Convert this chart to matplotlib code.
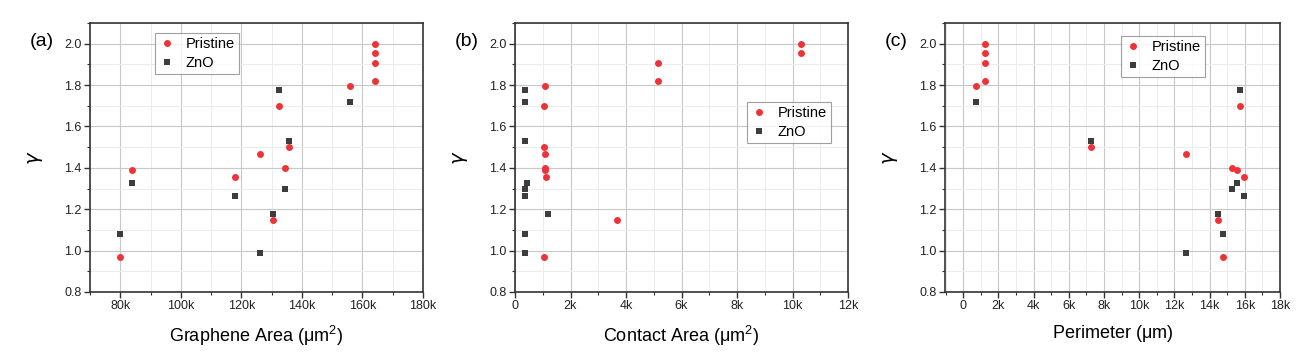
import numpy as np
import matplotlib
matplotlib.use("Agg")
import matplotlib.pyplot as plt
from matplotlib.ticker import MultipleLocator, FuncFormatter

plt.rcParams['font.family'] = ['Liberation Sans', 'DejaVu Sans']
plt.rcParams['mathtext.fontset'] = 'custom'
plt.rcParams['mathtext.rm'] = 'Liberation Sans'

# (a) graphene area
area_p_x = [80, 84, 117.9, 126, 130.5, 132.3, 134.3, 135.9, 155.8, 164, 164, 164, 164]
area_p_y = [0.97, 1.389, 1.355, 1.465, 1.147, 1.698, 1.40, 1.50, 1.797, 2.0, 1.955, 1.905, 1.818]
area_z_x = [80, 84, 117.9, 126, 130.5, 132.3, 134.3, 135.9, 155.8]
area_z_y = [1.079, 1.327, 1.266, 0.989, 1.179, 1.774, 1.297, 1.529, 1.719]

# (b) contact area
cont_p_x = [1.08, 1.04, 1.04, 1.08, 1.08, 1.08, 1.10, 1.04, 3.68, 5.15, 5.15, 10.29, 10.29]
cont_p_y = [1.797, 1.698, 1.50, 1.465, 1.40, 1.389, 1.355, 0.97, 1.147, 1.905, 1.818, 2.0, 1.955]
cont_z_x = [0.36, 0.36, 0.36, 0.42, 0.36, 0.36, 1.19, 0.36, 0.36]
cont_z_y = [1.774, 1.719, 1.529, 1.327, 1.297, 1.266, 1.179, 1.079, 0.989]

# (c) perimeter
per_p_x = [0.74, 1.21, 1.21, 1.21, 1.21, 7.25, 12.65, 14.5, 14.77, 15.25, 15.53, 15.7, 15.93]
per_p_y = [1.797, 1.818, 1.905, 1.955, 2.0, 1.50, 1.465, 1.147, 0.97, 1.40, 1.389, 1.698, 1.355]
per_z_x = [0.74, 7.25, 12.65, 14.5, 14.77, 15.25, 15.53, 15.7, 15.93]
per_z_y = [1.719, 1.529, 0.989, 1.179, 1.079, 1.297, 1.327, 1.774, 1.266]

red = '#ee3338'
gray = '#3d3d3d'

W, H = 1304, 364
fig = plt.figure(figsize=(W / 100, H / 100), dpi=100)

panels = [
    ('(a)', 90, 423, area_p_x, area_p_y, area_z_x, area_z_y, (70, 180), 20, 10,
     r'Graphene Area ($\mathrm{\mu}$m$^2$)', (155, 33)),
    ('(b)', 515, 848, cont_p_x, cont_p_y, cont_z_x, cont_z_y, (0, 12), 2, 1,
     r'Contact Area ($\mathrm{\mu}$m$^2$)', (747, 102)),
    ('(c)', 945, 1280, per_p_x, per_p_y, per_z_x, per_z_y, (-1.04, 18), 2, 1,
     r'Perimeter ($\mathrm{\mu}$m)', (1121, 36)),
]

top, bottom = 23, 292
kfmt = FuncFormatter(lambda v, p: '0' if abs(v) < 1e-9 else '%gk' % v)

for lab, x0, x1, px, py, zx, zy, xlim, maj, mnr, xlabel, legpos in panels:
    ax = fig.add_axes([x0 / W, (H - bottom) / H, (x1 - x0) / W, (bottom - top) / H])
    ax.plot(px, py, 'o', color=red, ms=5, mew=0, label='Pristine', zorder=3)
    ax.plot(zx, zy, 's', color=gray, ms=4.6, mew=0, label='ZnO', zorder=3)
    ax.set_xlim(*xlim)
    ax.set_ylim(0.8, 2.1)
    ax.xaxis.set_major_locator(MultipleLocator(maj))
    ax.xaxis.set_minor_locator(MultipleLocator(mnr))
    ax.yaxis.set_major_locator(MultipleLocator(0.2))
    ax.yaxis.set_minor_locator(MultipleLocator(0.1))
    ax.xaxis.set_major_formatter(kfmt)
    ax.yaxis.set_major_formatter(FuncFormatter(lambda v, p: '%.1f' % v))
    ax.grid(which='major', color='#c8c8c8', lw=0.8)
    ax.grid(which='minor', color='#ececec', lw=0.7)
    ax.set_axisbelow(True)
    for s in ax.spines.values():
        s.set_color('#333333')
        s.set_linewidth(1.2)
    ax.tick_params(which='major', direction='out', length=4, width=1, color='#333333',
                   labelsize=9, labelcolor='#222222', pad=2)
    ax.tick_params(which='minor', direction='out', length=2, width=0.8, color='#333333')
    ax.set_xlabel(xlabel, fontsize=13, labelpad=8)
    ax.set_ylabel(r'$\gamma$', fontsize=14, labelpad=14)
    fig.text((x0 - 60) / W, 1 - 42 / H, lab, fontsize=14, ha='left', va='center')
    lx, ly = legpos
    leg = ax.legend(loc='upper left',
                    bbox_to_anchor=((lx - x0) / (x1 - x0), 1 - (ly - top) / (bottom - top)),
                    fontsize=10.5, frameon=True, fancybox=False, borderaxespad=0,
                    handlelength=1.0, handletextpad=0.8, borderpad=0.3, labelspacing=0.3)
    leg.get_frame().set_edgecolor('#888888')
    leg.get_frame().set_linewidth(0.8)

fig.savefig('out.png', dpi=100)
